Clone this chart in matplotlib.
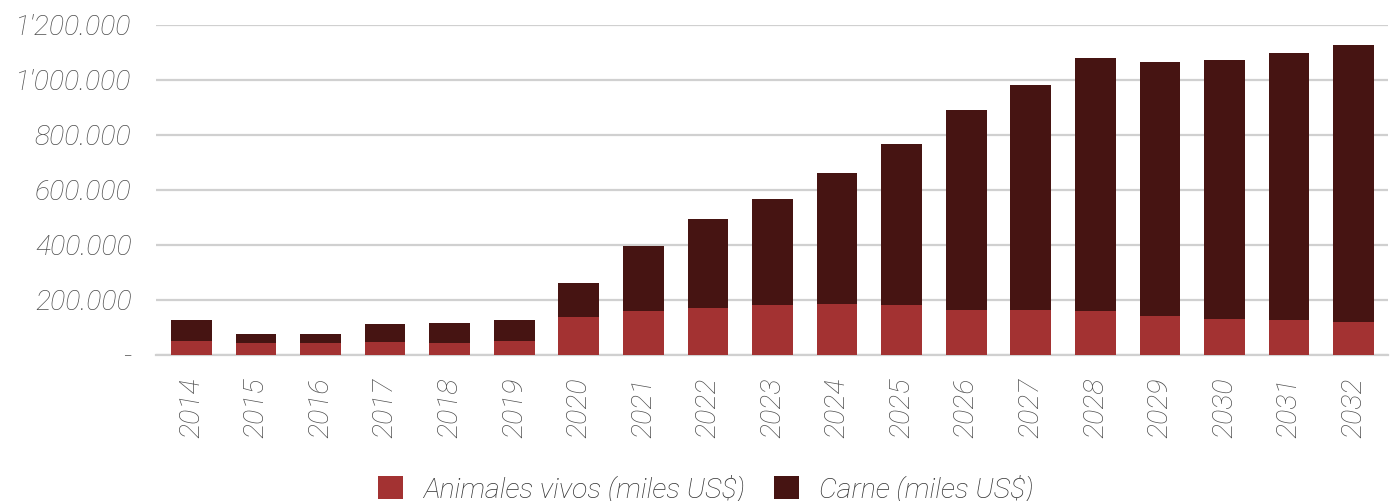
import matplotlib
matplotlib.use("Agg")
import matplotlib.pyplot as plt
import numpy as np

years = [str(y) for y in range(2014, 2033)]
# valores en miles US$
totales = [127, 76, 76, 112, 116, 127, 262, 397, 495, 568, 663, 766, 890, 981, 1079, 1065, 1072, 1098, 1127]
vivos = [51, 44, 44, 48, 44, 51, 139, 161, 172, 182, 186, 182, 164, 164, 161, 143, 132, 128, 121]
carne = [t - v for t, v in zip(totales, vivos)]

y_ticks = [0, 200, 400, 600, 800, 1000, 1200]
y_labels = ["-", "200.000", "400.000", "600.000", "800.000", "1'000.000", "1'200.000"]

color_vivos = "#a33232"
color_carne = "#461412"
text_color = "#4f4f4f"
fsize = 20.5

plt.rcParams["font.family"] = ["Roboto", "DejaVu Sans"]

fig = plt.figure(figsize=(13.92, 5.01), dpi=100)
ax = fig.add_axes([0.112, 0.2914, 0.885, 0.6593])

x = np.arange(len(years))
ax.bar(x, vivos, width=0.63, color=color_vivos, label="Animales vivos (miles US$)", zorder=3)
ax.bar(x, carne, width=0.63, bottom=vivos, color=color_carne, label="Carne (miles US$)", zorder=3)

ax.set_xlim(-0.55, len(years) - 0.47)
ax.set_ylim(0, 1200)
ax.set_yticks(y_ticks)
ax.set_yticklabels(y_labels)
ax.set_xticks(x)
ax.set_xticklabels(years, rotation=90)

ax.grid(axis="y", color="#d0d0d0", linewidth=1.6, zorder=0)
ax.tick_params(axis="both", length=0, labelsize=fsize, colors=text_color)
ax.tick_params(axis="y", pad=17.5)
ax.tick_params(axis="x", pad=16)
for lbl in ax.get_xticklabels() + ax.get_yticklabels():
    lbl.set_fontstyle("italic")
    lbl.set_fontweight("light")

for side in ["top", "right", "left"]:
    ax.spines[side].set_visible(False)
ax.spines["bottom"].set_color("#d0d0d0")
ax.spines["bottom"].set_linewidth(1.6)

leg = fig.legend(loc="center", bbox_to_anchor=(0.507, 0.024), ncol=2, frameon=False,
                 handlelength=0.9, handleheight=0.9, handletextpad=0.7, columnspacing=1.0,
                 prop={"size": fsize, "style": "italic", "weight": "light"})
for t in leg.get_texts():
    t.set_color("#333333")

fig.savefig("out.png", dpi=100)
